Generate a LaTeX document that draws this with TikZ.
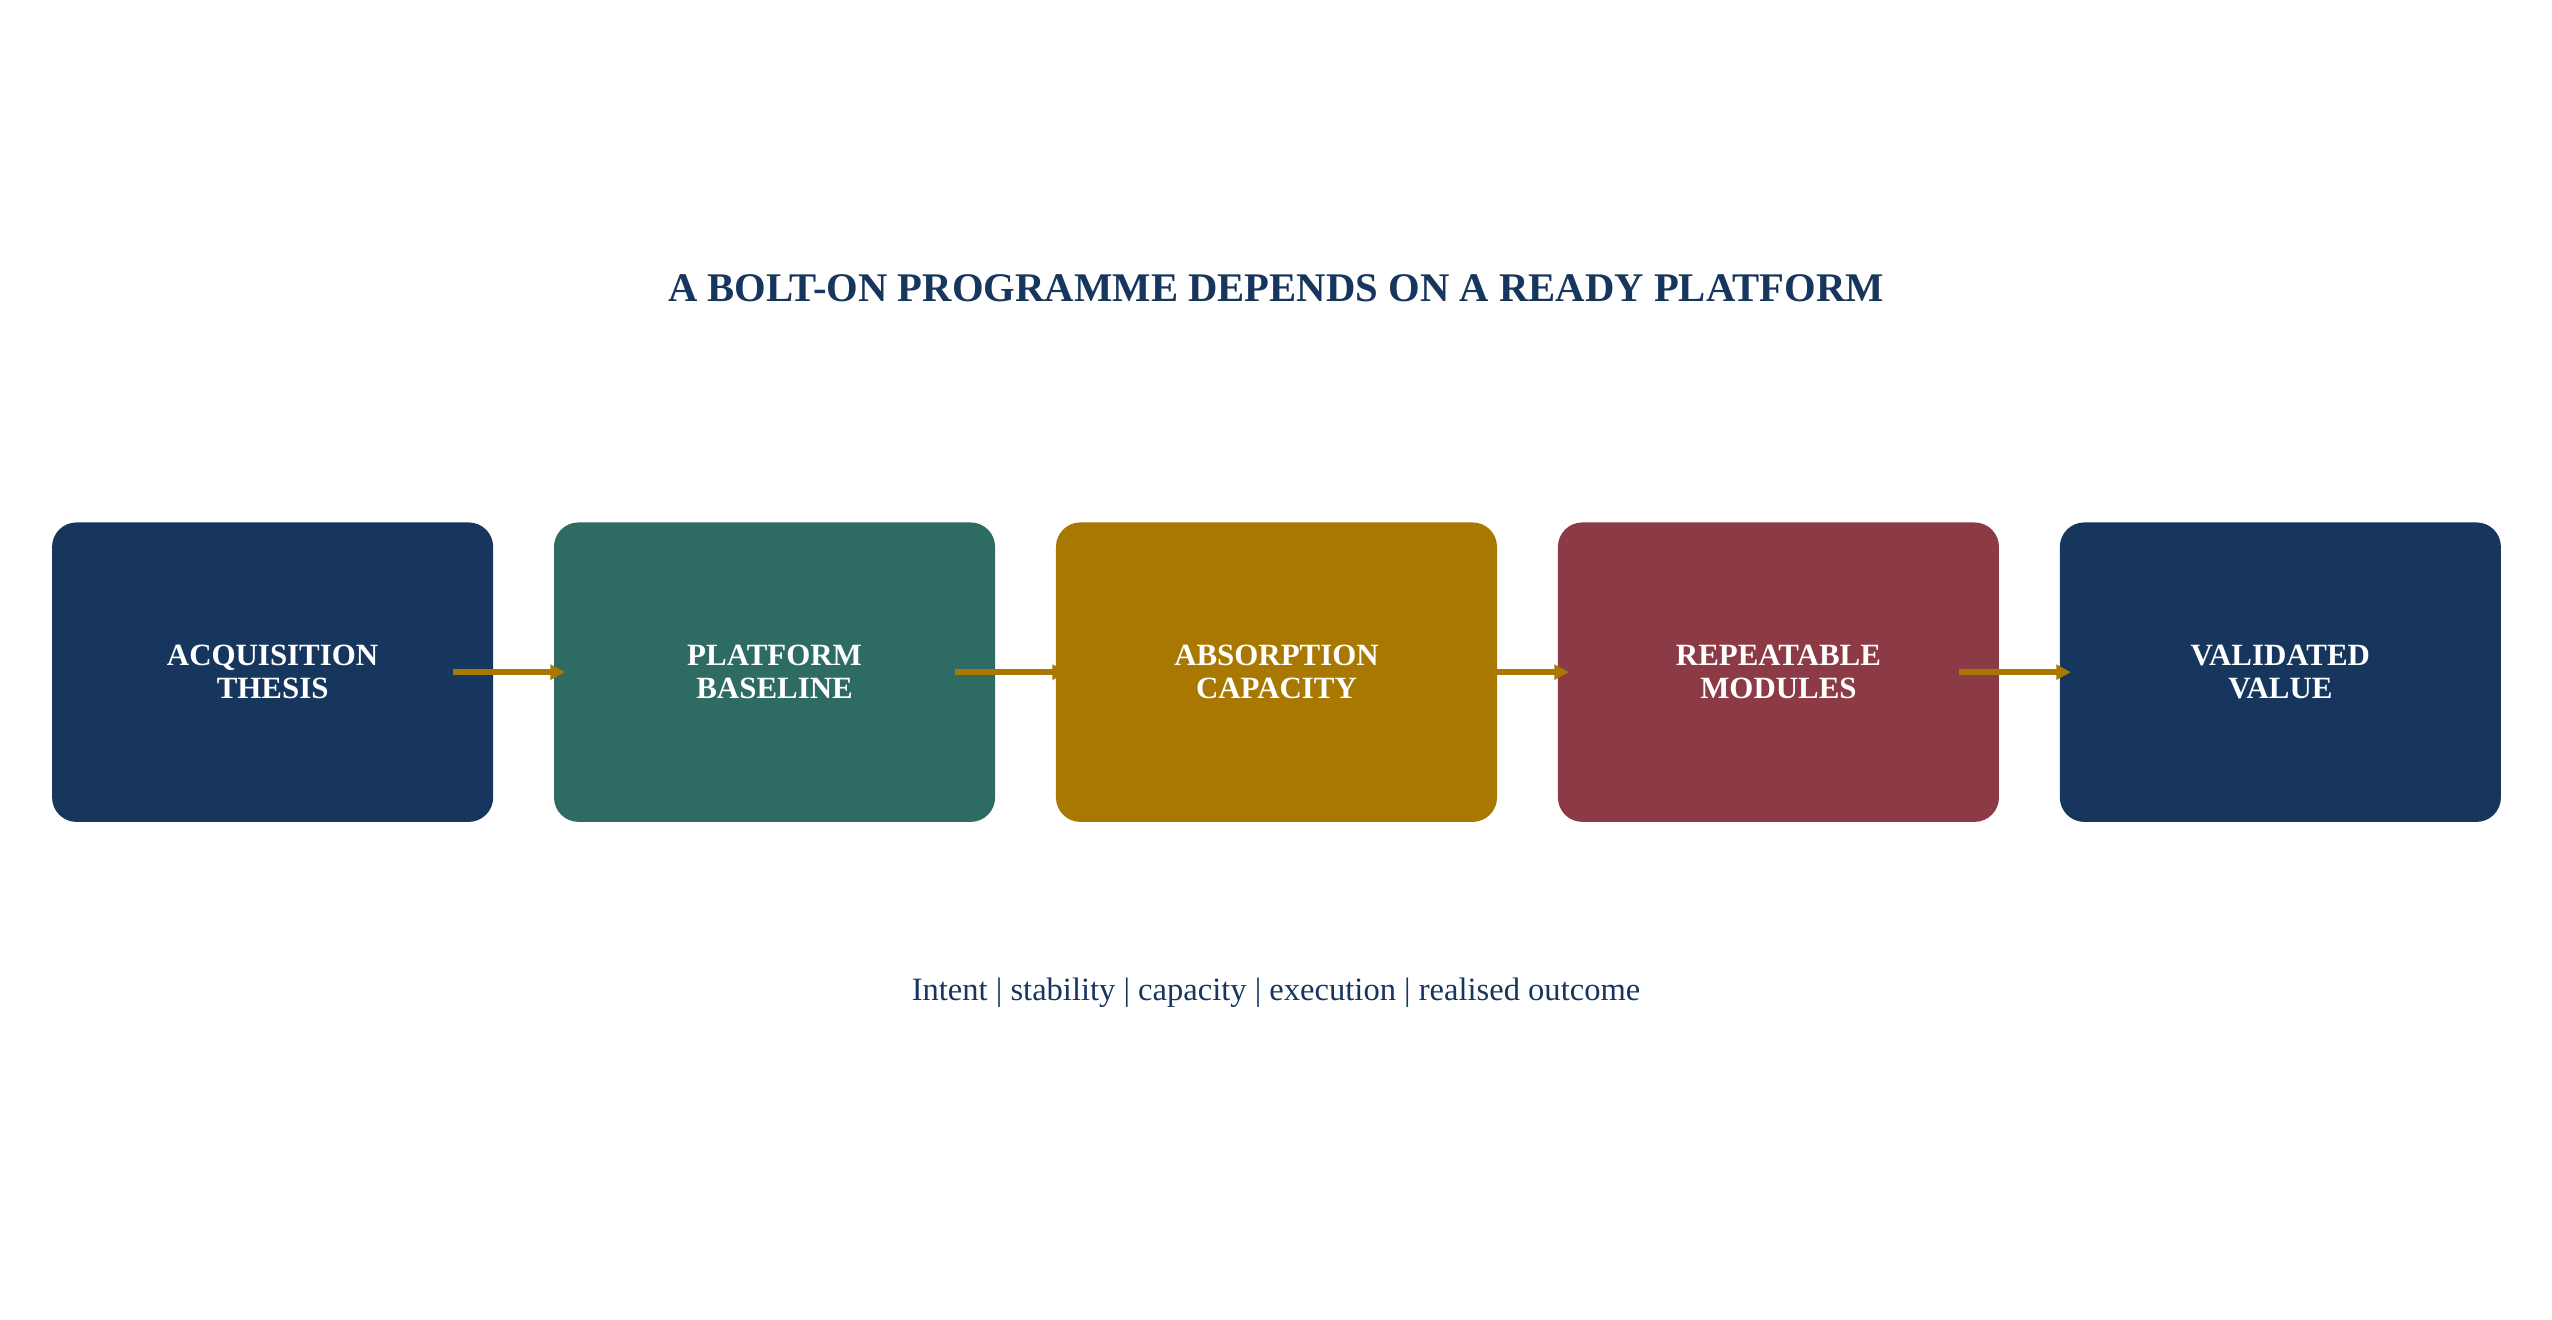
\documentclass[tikz,border=0pt]{standalone}
\usepackage{fontspec}
\setmainfont{Liberation Serif}
\usetikzlibrary{positioning,arrows.meta}

\definecolor{navy}{HTML}{17365D}
\definecolor{teal}{HTML}{2E6B62}
\definecolor{gold}{HTML}{A87800}
\definecolor{wine}{HTML}{8B3A46}

\tikzset{
  stage/.style={rectangle, rounded corners=15pt, minimum width=271pt, minimum height=184pt,
    text=white, align=center, font=\bfseries\fontsize{19}{20}\selectfont, inner sep=0pt},
  link/.style={gold, line width=4pt, -{Triangle[length=9pt,width=9pt]}}
}

\begin{document}
\begin{tikzpicture}[x=1pt, y=1pt]

% Fix the page size
\useasboundingbox (0,0) rectangle (1568,811);

% Title
\node[text=navy, font=\bfseries\fontsize{25}{28}\selectfont] (title) at (784,634) {A BOLT-ON PROGRAMME DEPENDS ON A READY PLATFORM};

% Define the stages
\node[stage, fill=navy] (thesis) at (167.5,398) {ACQUISITION\\THESIS};
\node[stage, fill=teal, right=37pt of thesis] (baseline) {PLATFORM\\BASELINE};
\node[stage, fill=gold, right=37pt of baseline] (capacity) {ABSORPTION\\CAPACITY};
\node[stage, fill=wine, right=37pt of capacity] (modules) {REPEATABLE\\MODULES};
\node[stage, fill=navy, right=37pt of modules] (value) {VALIDATED\\VALUE};

% Connect the stages
\draw[link] ([xshift=-25pt]thesis.east) -- ([xshift=7pt]baseline.west);
\draw[link] ([xshift=-25pt]baseline.east) -- ([xshift=7pt]capacity.west);
\draw[link] ([xshift=-2pt]capacity.east) -- ([xshift=7pt]modules.west);
\draw[link] ([xshift=-25pt]modules.east) -- ([xshift=7pt]value.west);

% Caption
\node[text=navy, font=\fontsize{20}{24}\selectfont] (caption) at (784,201) {Intent | stability | capacity | execution | realised outcome};

\end{tikzpicture}
\end{document}
